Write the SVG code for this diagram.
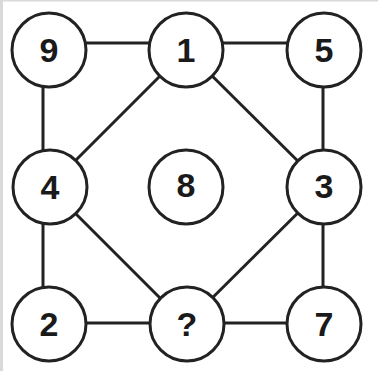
<svg xmlns="http://www.w3.org/2000/svg" width="378" height="371" viewBox="0 0 378 371">
<style>
.n circle{fill:#fff;stroke:#222;stroke-width:3}
.n text{font-family:"Liberation Sans",Arial,sans-serif;font-weight:bold;font-size:34px;fill:#1a1a1a;text-anchor:middle}
#edges line{stroke:#222;stroke-width:3}
</style>
<rect x="0" y="0" width="378" height="371" fill="#fff"/>
<rect x="0" y="0" width="3" height="371" fill="#d9d9d9"/>
<rect x="0" y="0" width="378" height="1.5" fill="#d9d9d9"/>
<g id="edges">
<line x1="49" y1="43" x2="186" y2="43"/>
<line x1="186" y1="43" x2="324" y2="43"/>
<line x1="43" y1="50" x2="43" y2="187"/>
<line x1="43" y1="187" x2="43" y2="324"/>
<line x1="323" y1="50" x2="323" y2="187"/>
<line x1="323" y1="187" x2="323" y2="324"/>
<line x1="49" y1="323" x2="186" y2="323"/>
<line x1="186" y1="323" x2="324" y2="323"/>
<line x1="186" y1="50" x2="49" y2="187"/>
<line x1="186" y1="50" x2="324" y2="187"/>
<line x1="324" y1="187" x2="186" y2="324"/>
<line x1="49" y1="187" x2="186" y2="324"/>
</g>
<g id="n9" class="n"><circle cx="49" cy="50" r="37"/><text x="49" y="62">9</text></g>
<g id="n1" class="n"><circle cx="186" cy="50" r="37"/><text x="186" y="62">1</text></g>
<g id="n5" class="n"><circle cx="324" cy="50" r="37"/><text x="324" y="62">5</text></g>
<g id="n4" class="n"><circle cx="50" cy="187" r="37"/><text x="50" y="199">4</text></g>
<g id="n8" class="n"><circle cx="186" cy="187" r="37"/><text x="186" y="197">8</text></g>
<g id="n3" class="n"><circle cx="324" cy="187" r="37"/><text x="324" y="198">3</text></g>
<g id="n2" class="n"><circle cx="49" cy="324" r="37"/><text x="49" y="336">2</text></g>
<g id="nq" class="n"><circle cx="187" cy="324" r="37"/><text x="187" y="336">?</text></g>
<g id="n7" class="n"><circle cx="324" cy="324" r="37"/><text x="324" y="336">7</text></g>
</svg>
